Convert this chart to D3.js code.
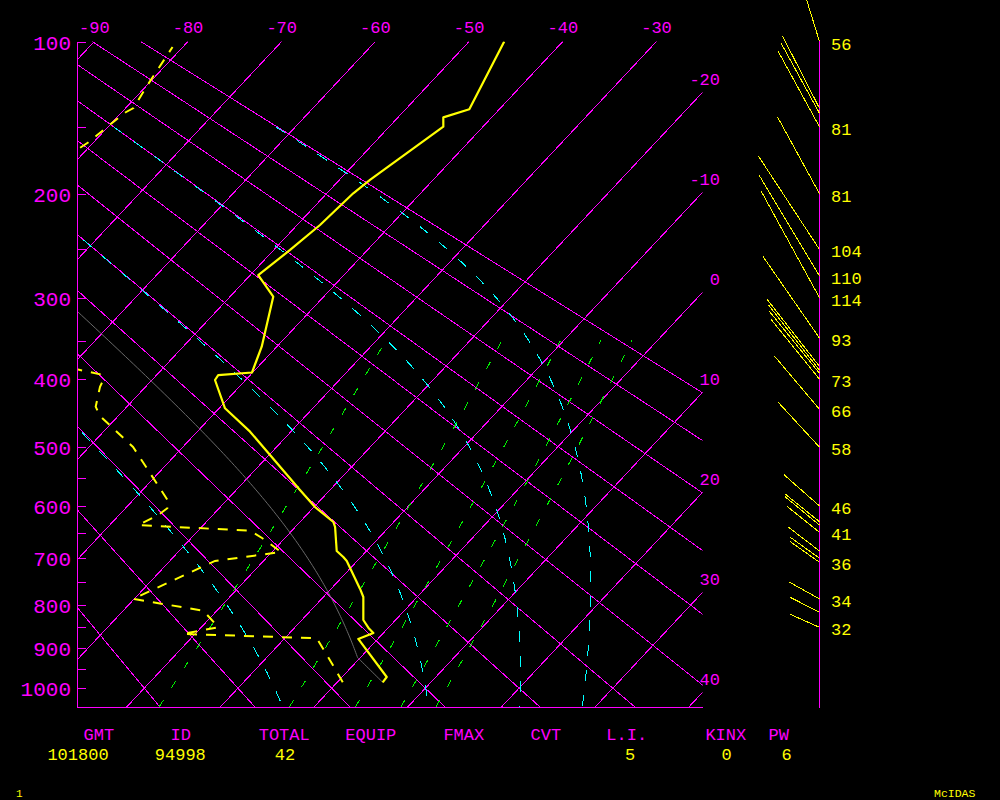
<!DOCTYPE html>
<html><head><meta charset="utf-8">
<script src="https://cdn.jsdelivr.net/npm/d3@7/dist/d3.min.js"></script>
<style>html,body{margin:0;padding:0;background:#000;}svg{display:block;}</style>
</head><body>
<svg id="chart" width="1000" height="800"></svg>
<script>
// ---------------- data ----------------
const pressureTicks = [100,150,200,250,300,350,400,500,550,600,650,700,750,800,850,900,950,1000];
const pressureLabels = [100,200,300,400,500,600,700,800,900,1000];
const isotherms = [-90,-80,-70,-60,-50,-40,-30,-20,-10,0,10,20,30,40];
const topIsoLabels = [-90,-80,-70,-60,-50,-40,-30];
const rightIsoLabels = [-20,-10,0,10,20,30,40];
const dryAdiabats = [-20,-10,0,10,20,30,40,50,60,70,80,90];
const moistAdiabats = [0,30,60,90];
const mixingRatios = [1,3,5,7,9];

const tempP = [984.8,971.2,877.4,863.2,851.5,833.1,781.6,764.2,705.6,697.5,685.5,638.8,629.5,601.8,571.5,475.8,440.9,401.1,394.4,391.0,374.6,357.7,298.9,275.7,250.5,227.1,199.7,188.9,149.9,143.7,138.5,100.0];
const tempT = [4.86,4.76,-2.08,-1.07,-2.09,-3.44,-5.74,-6.89,-11.11,-11.88,-13.18,-15.76,-16.44,-19.9,-23.2,-34.36,-39.37,-43.27,-43.42,-40.07,-40.82,-41.61,-45.38,-49.15,-48.26,-47.56,-47.18,-46.73,-44.23,-45.17,-43.2,-46.25];

const dewP = [984.8,936.5,875.7,865.5,849.9,812.0,785.9,705.6,687.5,660.0,646.0,635.2,616.4,604.1,594.0,499.7,452.2,438.6,410.3,401.1,393.4,386.7,381.0,300.0,200.0,166.2,160.2,149.4,140.4,137.7,131.0,125.0,102.8];
const dewT = [0.6,-2.48,-6.58,-21.32,-18.19,-21.45,-30.12,-25.17,-19.02,-22.45,-24.46,-36.95,-35.82,-35.53,-35.88,-45.32,-51.94,-53.33,-54.87,-55.19,-56.11,-59.1,-70,-82,-88,-81.03,-80.51,-80.06,-79.57,-79.17,-79.54,-79.9,-81.1];

const windP   = [100,137.9,141.1,150,200,250,276.8,300,347,383,388,392,400,442.4,500,600,629,635.3,649,685.5,700,708.2,785.9,815.6,850];
const windDir = [342.8,332.9,331.3,331.3,331.3,326.8,329.1,331.3,325.3,322,322,321,321,319.8,317.4,311.4,308.9,309.5,308.7,307.4,305.6,305.1,299.1,297.1,293.9];
const windSpd = [56,76.7,76,82,82,104,110,114,93,80,78,76,73,66,58,46,42.9,43.3,41,38.3,35.6,36,34,32.8,32];
const windLabel = ["56","","","81","81","104","110","114","93","","","","73","66","58","46","","","41","","","36","34","","32"];

const statNames  = ["GMT","ID","TOTAL","EQUIP","FMAX","CVT","L.I.","KINX","PW"];
const statValues = ["101800","94998","42","","","","5","0","6"];

// ---------------- layout ----------------
const MAG="#ff00ff", YEL="#ffff00", CYAN="#00ffff", GRN="#00ee00", GRAY="#6a6a6a";
const FONT="'Liberation Mono', 'DejaVu Sans Mono', monospace";
const X0=77.5, X1=702.5, Y0=41.5, Y1=707.5;
const statNameX = [98.8,180.8,284.2,370.8,463.8,545.8,626.7,725.8,778.8];
const statValX  = [78,180.3,285,0,0,0,630,726.7,786.7];

const svg = d3.select("#chart");
svg.append("rect").attr("width",1000).attr("height",800).attr("fill","#000");

const yS = d3.scalePow().exponent(0.2857).domain([100,1050]).range([41.5,707]);
const tS = d3.scaleLinear().domain([-90,-30]).range([94.3,656.5]);
const SKEW = 0.1; // degC per pixel of height
const sx = (T,p) => tS(T - SKEW*(yS(p)-yS(100)));

svg.append("defs").append("clipPath").attr("id","plot")
  .append("rect").attr("x",X0).attr("y",Y0).attr("width",X1-X0).attr("height",Y1-Y0);
const plot = svg.append("g").attr("clip-path","url(#plot)");

const line = d3.line().x(d=>sx(d.T,d.p)).y(d=>yS(d.p));
const pFull = d3.range(100,1051,25);

// isotherms
plot.selectAll(".iso").data(isotherms).enter().append("path")
  .attr("d",T=>line([{p:100,T},{p:1050,T}]))
  .attr("stroke",MAG).attr("stroke-width",1).attr("fill","none").attr("shape-rendering","crispEdges");

// dry adiabats
plot.selectAll(".dry").data(dryAdiabats).enter().append("path")
  .attr("d",th=>line(pFull.map(p=>({p,T:(th+273.15)*Math.pow(p/1000,0.2857)-273.15}))))
  .attr("stroke",MAG).attr("stroke-width",1).attr("fill","none").attr("shape-rendering","crispEdges");

// moist adiabats
function esat(Tc){return 6.112*Math.exp(17.67*Tc/(Tc+243.5));}
function thetaE(Tc,p){const T=Tc+273.15, es=esat(Tc), r=0.622*es/(p-es);
  return T*Math.pow(1000/p,0.2857)*Math.exp(2.5e6*r/(1004*T));}
function moistT(thK,p){let lo=-130,hi=60;for(let i=0;i<60;i++){const m=(lo+hi)/2;if(thetaE(m,p)>thK)hi=m;else lo=m;}return (lo+hi)/2;}
const pMoist = d3.range(150,1051,5);
plot.selectAll(".moist").data(moistAdiabats).enter().append("path")
  .attr("d",th=>line(pMoist.map(p=>({p,T:moistT(th+273.15,p)}))))
  .attr("stroke",CYAN).attr("stroke-width",1).attr("stroke-dasharray","11,14").attr("fill","none")
  .attr("shape-rendering","crispEdges");

// mixing ratio lines
const pMix = d3.range(1050,349,-10);
plot.selectAll(".mix").data(mixingRatios).enter().append("path")
  .attr("d",w=>line(pMix.map(p=>{const e=w*p/(622+w),a=Math.log(e/6.112);return {p,T:243.5*a/(17.67-a)};})))
  .attr("stroke",GRN).attr("stroke-width",1).attr("stroke-dasharray","8,15").attr("fill","none")
  .attr("shape-rendering","crispEdges");

// lifted surface parcel (dry to LCL, then moist) from the first sounding level
(function(){
  const p0=tempP[0], T0=tempT[0]+273.15, D0=dewT[0]+273.15;
  const Tl = 1/(1/(D0-56)+Math.log(T0/D0)/800)+56;
  const pl = p0*Math.pow(Tl/T0,3.5);
  const the = thetaE(Tl-273.15,pl);
  const pts=[];
  d3.range(p0,pl,-5).forEach(p=>pts.push({p,T:T0*Math.pow(p/p0,0.2857)-273.15}));
  pts.push({p:pl,T:Tl-273.15});
  d3.range(Math.floor(pl/5)*5,199,-5).forEach(p=>pts.push({p,T:moistT(the,p)}));
  plot.append("path").attr("d",line(pts)).attr("stroke",GRAY).attr("stroke-width",1).attr("fill","none");
})();

// temperature & dewpoint
const tempData = tempP.map((p,i)=>({p,T:tempT[i]}));
const dewData = dewP.map((p,i)=>({p,T:dewT[i]}));
plot.append("path").attr("d",line(dewData)).attr("stroke",YEL).attr("stroke-width",2)
  .attr("stroke-dasharray","10,9").attr("fill","none");
plot.append("path").attr("d",line(tempData)).attr("stroke",YEL).attr("stroke-width",2.2)
  .attr("fill","none").attr("stroke-linejoin","round");

// frame: left axis with ticks, bottom line
const axL = d3.axisRight(yS).tickValues(pressureTicks).tickSize(8).tickSizeOuter(0).tickFormat("");
const gAx = svg.append("g").attr("transform",`translate(${X0},0)`).call(axL);
gAx.select(".domain").attr("stroke",MAG).attr("d",`M0,${Y0}V${Y1}`).attr("shape-rendering","crispEdges");
gAx.selectAll(".tick line").attr("stroke",MAG).attr("shape-rendering","crispEdges");
svg.append("line").attr("x1",X0).attr("x2",X1).attr("y1",Y1).attr("y2",Y1).attr("stroke",MAG).attr("shape-rendering","crispEdges");

// pressure labels
svg.selectAll(".plab").data(pressureLabels).enter().append("text")
  .attr("x",71).attr("y",p=>yS(p)+8).attr("text-anchor","end")
  .attr("font-family",FONT).attr("font-size",21).attr("fill",MAG).text(p=>p);

// top isotherm labels
svg.selectAll(".tlab").data(topIsoLabels).enter().append("text")
  .attr("x",T=>tS(T)).attr("y",33).attr("text-anchor","middle")
  .attr("font-family",FONT).attr("font-size",17).attr("fill",MAG).text(T=>T);
// right isotherm labels
const slope = tS(1)-tS(0);
svg.selectAll(".rlab").data(rightIsoLabels).enter().append("text")
  .attr("x",720).attr("y",T=>yS(100)+(tS(T)-X1)/(SKEW*slope)-7.5).attr("text-anchor","end")
  .attr("font-family",FONT).attr("font-size",17).attr("fill",MAG).text(T=>T);

// wind column
const WX = 819.5;
svg.append("line").attr("x1",WX).attr("x2",WX).attr("y1",yS(100)-0.8).attr("y2",Y1).attr("stroke",MAG).attr("shape-rendering","crispEdges");
const lenS = d3.scaleLinear().domain([32,114]).range([32,122.3]);
const gw = svg.append("g");
windP.forEach((p,i)=>{
  const by=yS(p), L=lenS(windSpd[i]), a=windDir[i]*Math.PI/180;
  gw.append("line").attr("x1",WX).attr("y1",by)
    .attr("x2",WX+L*Math.sin(a)).attr("y2",by-L*Math.cos(a))
    .attr("stroke",YEL).attr("stroke-width",1).attr("shape-rendering","crispEdges");
  if(windLabel[i]) gw.append("text").attr("x",831).attr("y",by+8)
    .attr("font-family",FONT).attr("font-size",17).attr("fill",YEL).text(windLabel[i]);
});

// stats
svg.selectAll(".sn").data(statNames).enter().append("text")
  .attr("x",(d,i)=>statNameX[i]).attr("y",740).attr("text-anchor","middle")
  .attr("font-family",FONT).attr("font-size",17).attr("fill",MAG).text(d=>d);
svg.selectAll(".sv").data(statValues).enter().append("text")
  .attr("x",(d,i)=>statValX[i]).attr("y",760).attr("text-anchor","middle")
  .attr("font-family",FONT).attr("font-size",17).attr("fill",YEL).text(d=>d);

svg.append("text").attr("x",16).attr("y",796.5).attr("font-family",FONT).attr("font-size",11).attr("fill",YEL).text("1");
svg.append("text").attr("x",934).attr("y",796.5).attr("font-family",FONT).attr("font-size",11.5).attr("fill",YEL).text("McIDAS");
</script>
</body></html>
